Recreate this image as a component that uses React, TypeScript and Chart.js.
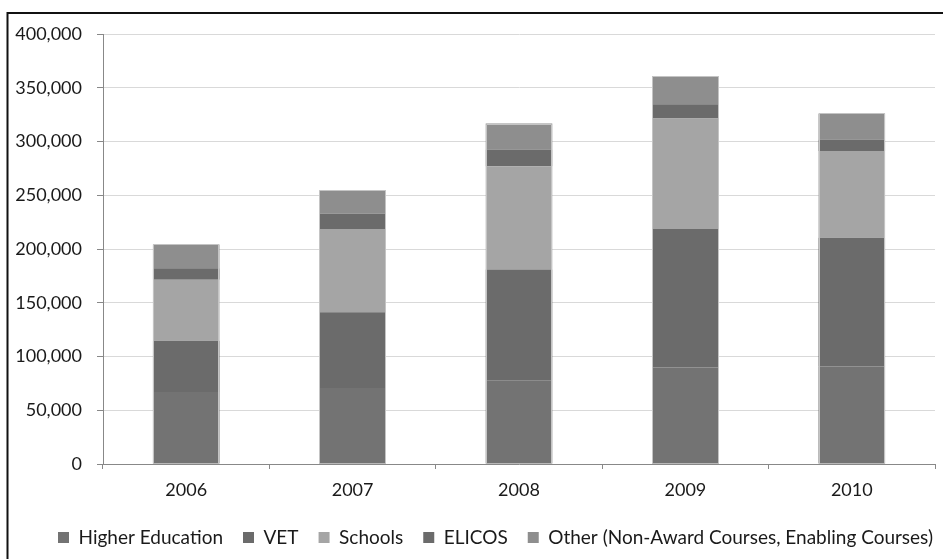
import React, { useEffect, useRef } from "react";
import { Chart, registerables } from "chart.js";

Chart.register(...registerables);

const years = ["2006", "2007", "2008", "2009", "2010"];
const higherEducation = [67000, 70600, 78000, 89800, 90700];
const vet = [47700, 70500, 102900, 128700, 119700];
const schools = [56600, 77400, 96000, 102900, 80800];
const elicos = [10800, 14300, 15600, 13300, 10600];
const other = [22100, 21700, 24200, 26100, 24300];
const yTicks = [0, 50000, 100000, 150000, 200000, 250000, 300000, 350000, 400000];

const FONT = "Lato";
const AXIS_SIZE = 18;
const LEGEND_SIZE = 19;
const TEXT = "#1a1a1a";

const frame = {
  id: "frame",
  afterLayout(chart: any) {
    const l = chart.legend;
    if (l) {
      l.left += 18;
      l.right += 18;
    }
  },
  afterDatasetsDraw(chart: any) {
    const ctx = chart.ctx;
    const n = chart.data.datasets.length;
    const first = chart.getDatasetMeta(0).data;
    const last = chart.getDatasetMeta(n - 1).data;
    ctx.save();
    ctx.strokeStyle = "#c4c4c4";
    ctx.lineWidth = 1;
    first.forEach((el: any, i: number) => {
      const b = el.getProps(["x", "width", "base"], true);
      const t = last[i].getProps(["y"], true);
      const left = Math.round(b.x - b.width / 2) + 0.5;
      const right = Math.round(b.x + b.width / 2) - 0.5;
      const top = Math.round(t.y) + 0.5;
      const bottom = Math.round(b.base);
      ctx.beginPath();
      ctx.moveTo(left, bottom);
      ctx.lineTo(left, top);
      ctx.lineTo(right, top);
      ctx.lineTo(right, bottom);
      ctx.stroke();
    });
    ctx.restore();
  },
  afterDraw(chart: any) {
    const ctx = chart.ctx;
    ctx.save();
    ctx.strokeStyle = "#111";
    ctx.lineWidth = 2;
    ctx.beginPath();
    ctx.moveTo(7.5, 559);
    ctx.lineTo(7.5, 13);
    ctx.lineTo(943, 13);
    ctx.stroke();
    ctx.restore();
  },
};

export default function App() {
  const ref = useRef<HTMLCanvasElement>(null);
  useEffect(() => {
    if (!ref.current) return;
    const mk = (label: string, data: number[], color: string) => ({
      label,
      data,
      backgroundColor: color,
      borderWidth: 0,
      categoryPercentage: 0.4,
      barPercentage: 1,
    });
    const chart = new Chart(ref.current, {
      type: "bar",
      data: {
        labels: years,
        datasets: [
          mk("Higher Education", higherEducation, "#737373"),
          mk("VET", vet, "#6b6b6b"),
          mk("Schools", schools, "#a5a5a5"),
          mk("ELICOS", elicos, "#6b6b6b"),
          mk("Other (Non-Award Courses, Enabling Courses)", other, "#8e8e8e"),
        ],
      },
      options: {
        responsive: false,
        animation: false,
        devicePixelRatio: 1,
        layout: { padding: { left: 10, right: 8, top: 34, bottom: 2 } },
        font: { family: FONT, size: AXIS_SIZE },
        plugins: {
          tooltip: { enabled: false },
          legend: {
            position: "bottom",
            align: "end",
            maxHeight: 56,
            labels: {
              boxWidth: 11,
              boxHeight: 11,
              padding: 20,
              color: TEXT,
              font: { family: FONT, size: LEGEND_SIZE },
            },
          },
        },
        scales: {
          x: {
            stacked: true,
            afterFit: (a: any) => {
              a.height = 44;
            },
            grid: {
              drawOnChartArea: false,
              drawTicks: true,
              tickLength: 5,
              tickColor: "#888",
              offset: true,
            },
            border: { color: "#888", width: 1 },
            ticks: { color: TEXT, padding: 10, font: { family: FONT, size: AXIS_SIZE } },
          },
          y: {
            stacked: true,
            min: 0,
            max: 400000,
            afterFit: (a: any) => {
              a.width = 93;
            },
            afterBuildTicks: (a: any) => {
              a.ticks = yTicks.map((v) => ({ value: v }));
            },
            grid: {
              color: "#d9d9d9",
              tickColor: "#888",
              tickLength: 6,
              drawTicks: true,
            },
            border: { color: "#888", width: 1 },
            ticks: {
              color: TEXT,
              padding: 15,
              font: { family: FONT, size: AXIS_SIZE },
              callback: (v: any) => Number(v).toLocaleString("en-US"),
            },
          },
        },
      },
      plugins: [frame],
    });
    return () => chart.destroy();
  }, []);
  return (
    <div style={{ position: "fixed", left: 0, top: 0, width: 943, height: 559, background: "#fff" }}>
      <canvas ref={ref} width={943} height={559} />
    </div>
  );
}
